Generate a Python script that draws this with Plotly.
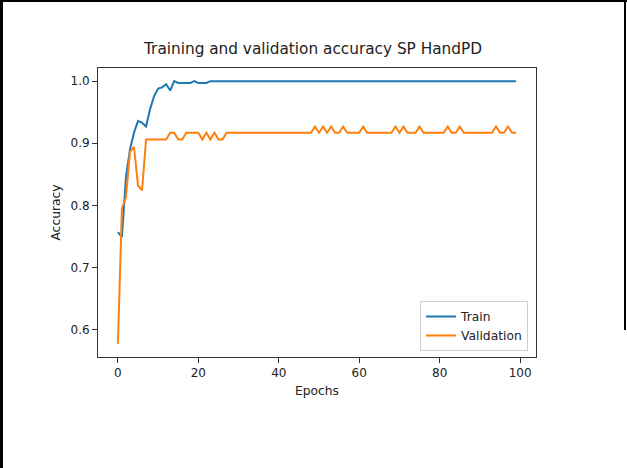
import plotly.graph_objects as go

epochs = list(range(100))

train_acc = [
    0.757, 0.749, 0.845, 0.890, 0.917, 0.936, 0.933, 0.927, 0.955, 0.976,
    0.988, 0.990, 0.995, 0.985, 1.000, 0.997, 0.997, 0.997, 0.997, 1.000,
    0.997, 0.997, 0.997, 1.000, 1.000, 1.000, 1.000, 1.000, 1.000, 1.000,
    1.000, 1.000, 1.000, 1.000, 1.000, 1.000, 1.000, 1.000, 1.000, 1.000,
    1.000, 1.000, 1.000, 1.000, 1.000, 1.000, 1.000, 1.000, 1.000, 1.000,
    1.000, 1.000, 1.000, 1.000, 1.000, 1.000, 1.000, 1.000, 1.000, 1.000,
    1.000, 1.000, 1.000, 1.000, 1.000, 1.000, 1.000, 1.000, 1.000, 1.000,
    1.000, 1.000, 1.000, 1.000, 1.000, 1.000, 1.000, 1.000, 1.000, 1.000,
    1.000, 1.000, 1.000, 1.000, 1.000, 1.000, 1.000, 1.000, 1.000, 1.000,
    1.000, 1.000, 1.000, 1.000, 1.000, 1.000, 1.000, 1.000, 1.000, 1.000,
]

val_acc = [
    0.577, 0.795, 0.813, 0.886, 0.894, 0.832, 0.824, 0.906, 0.906, 0.906,
    0.906, 0.906, 0.906, 0.917, 0.917, 0.906, 0.906, 0.917, 0.917, 0.917,
    0.917, 0.906, 0.917, 0.906, 0.917, 0.906, 0.906, 0.917, 0.917, 0.917,
    0.917, 0.917, 0.917, 0.917, 0.917, 0.917, 0.917, 0.917, 0.917, 0.917,
    0.917, 0.917, 0.917, 0.917, 0.917, 0.917, 0.917, 0.917, 0.917, 0.927,
    0.917, 0.927, 0.917, 0.927, 0.917, 0.917, 0.927, 0.917, 0.917, 0.917,
    0.917, 0.927, 0.917, 0.917, 0.917, 0.917, 0.917, 0.917, 0.917, 0.927,
    0.917, 0.927, 0.917, 0.917, 0.917, 0.927, 0.917, 0.917, 0.917, 0.917,
    0.917, 0.917, 0.927, 0.917, 0.917, 0.927, 0.917, 0.917, 0.917, 0.917,
    0.917, 0.917, 0.917, 0.917, 0.927, 0.917, 0.917, 0.927, 0.917, 0.917,
]

x_ticks = [0, 20, 40, 60, 80, 100]
y_ticks = [0.6, 0.7, 0.8, 0.9, 1.0]
y_tick_labels = ["0.6", "0.7", "0.8", "0.9", "1.0"]

W, H = 627, 468
L, R, T, B = 98, 91, 68, 111
PW, PH = W - L - R, H - T - B


def px(x):
    return (x - L) / PW


def py(y):
    return (H - B - y) / PH


FONT = "DejaVu Sans"
TXT = "#222222"

fig = go.Figure()
fig.add_trace(go.Scatter(x=epochs, y=train_acc, mode="lines", name="Train",
                         line=dict(color="#1f77b4", width=2)))
fig.add_trace(go.Scatter(x=epochs, y=val_acc, mode="lines", name="Validation",
                         line=dict(color="#ff7f0e", width=2)))

axis_common = dict(showgrid=False, zeroline=False, showline=True, linecolor="#333333",
                   linewidth=1, mirror=True, ticks="outside", ticklen=5, tickwidth=1,
                   tickcolor="#333333", tickfont=dict(family=FONT, size=12, color=TXT))

fig.update_layout(
    width=W, height=H,
    margin=dict(l=L, r=R, t=T, b=B, pad=0),
    paper_bgcolor="white", plot_bgcolor="white",
    title=dict(text="Training and validation accuracy SP HandPD", x=px(313), xanchor="center",
               xref="paper", y=1 - 49 / H, yref="container", yanchor="middle",
               font=dict(family=FONT, size=15.3, color=TXT)),
    xaxis=dict(range=[-4.95, 103.95], tickvals=x_ticks,
               title=dict(text="Epochs", font=dict(family=FONT, size=12.3, color=TXT), standoff=6),
               **axis_common),
    yaxis=dict(range=[0.5558, 1.0212], tickvals=y_ticks, ticktext=y_tick_labels,
               title=dict(text="Accuracy", font=dict(family=FONT, size=12.3, color=TXT), standoff=7),
               **axis_common),
    legend=dict(x=px(528), y=py(351), xanchor="right", yanchor="bottom",
                bgcolor="rgba(255,255,255,0.8)", bordercolor="#d0d0d0", borderwidth=1,
                font=dict(family=FONT, size=12.3, color=TXT), tracegroupgap=0),
    showlegend=True,
)

# figure frame (left, top, right)
fig.add_shape(type="line", xref="paper", yref="paper", x0=px(1.5), x1=px(1.5), y0=py(0), y1=py(H),
              line=dict(color="black", width=3))
fig.add_shape(type="line", xref="paper", yref="paper", x0=px(0), x1=px(W), y0=py(1), y1=py(1),
              line=dict(color="black", width=2))
fig.add_shape(type="line", xref="paper", yref="paper", x0=px(625), x1=px(625), y0=py(0), y1=py(330),
              line=dict(color="black", width=2))

fig.write_html("out.html")
